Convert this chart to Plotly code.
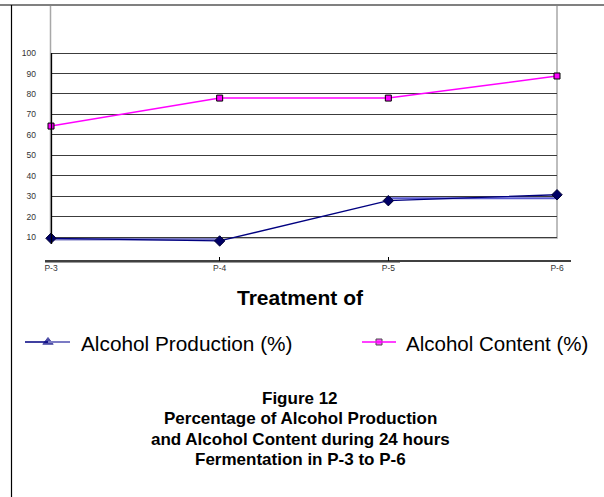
import plotly.graph_objects as go

# ---------------- data ----------------
categories = ["P-3", "P-4", "P-5", "P-6"]
alcohol_production = [9.4, 8.1, 27.8, 30.7]
production_band_low = [8.9, 8.9, None, None]
production_band_high = [None, None, 29.0, 29.0]
alcohol_content = [64.3, 78.0, 78.0, 88.8]
y_tick_values = [10, 20, 30, 40, 50, 60, 70, 80, 90, 100]
y_tick_labels = [str(v) for v in y_tick_values]
x_title = "Treatment of"
legend_names = ["Alcohol Production (%)", "Alcohol Content (%)"]
caption_lines = ["Figure 12", "Percentage of Alcohol Production",
                 "and Alcohol Content during 24 hours", "Fermentation in P-3 to P-6"]

W, H = 604, 497
FONT = "Liberation Sans, Arial, sans-serif"


def px(x):
    return x / W


def py(y):
    return 1 - y / H


# y scale: value 0 at pixel 257.5, 2.044 px per unit
Y0, K = 257.5, 2.044
y_top_px, y_bot_px = 5, 261
y_range = [(Y0 - y_bot_px) / K, (Y0 - y_top_px) / K]

fig = go.Figure()

fig.add_trace(go.Scatter(x=categories, y=production_band_low, mode="lines",
                         line=dict(color="#7b7bc4", width=2.5), showlegend=False,
                         hoverinfo="skip", cliponaxis=False))
fig.add_trace(go.Scatter(x=categories, y=production_band_high, mode="lines",
                         line=dict(color="#5a5ad0", width=2), showlegend=False,
                         hoverinfo="skip", cliponaxis=False))
fig.add_trace(go.Scatter(x=categories, y=alcohol_production, mode="lines+markers",
                         name=legend_names[0],
                         line=dict(color="#000080", width=1.3),
                         marker=dict(symbol="diamond", size=8, color="#000066",
                                     line=dict(color="#000033", width=1)),
                         showlegend=False, cliponaxis=False))
fig.add_trace(go.Scatter(x=categories, y=alcohol_content, mode="lines+markers",
                         name=legend_names[1],
                         line=dict(color="#ff00ff", width=1.5),
                         marker=dict(symbol="square", size=6, color="#ff00ff",
                                     line=dict(color="#000000", width=1)),
                         showlegend=False, cliponaxis=False))

# legend symbols on a pixel-coordinate helper axis covering the whole figure
fig.add_trace(go.Scatter(x=[48, 379], y=[342, 342], mode="markers",
                         marker=dict(symbol=["triangle-up", "square"], size=[9, 6],
                                     color=["#000080", "#ff00ff"],
                                     line=dict(color=["#000080", "#000000"], width=1)),
                         xaxis="x2", yaxis="y2", showlegend=False, hoverinfo="skip",
                         cliponaxis=False))

shapes = []
# outer frame lines
shapes.append(dict(type="line", xref="paper", yref="paper", x0=0, x1=1, y0=py(5), y1=py(5),
                   line=dict(color="#808080", width=2)))
shapes.append(dict(type="line", xref="paper", yref="paper", x0=px(11.5), x1=px(11.5), y0=py(5), y1=0,
                   line=dict(color="#000000", width=1.2)))
# gray plot-area box
shapes.append(dict(type="rect", xref="paper", yref="paper", x0=px(50.5), x1=px(557), y0=py(238), y1=py(5),
                   line=dict(color="#a8a8a8", width=1.5), layer="below"))
# black y axis line
shapes.append(dict(type="line", xref="paper", yref="paper", x0=px(51.5), x1=px(51.5), y0=py(53), y1=py(244),
                   line=dict(color="#000000", width=1.3)))
# x axis line
shapes.append(dict(type="line", xref="paper", yref="paper", x0=px(45), x1=px(571), y0=py(261), y1=py(261),
                   line=dict(color="#000000", width=1.3)))
shapes.append(dict(type="line", xref="paper", yref="paper", x0=px(45), x1=px(400), y0=py(262.5), y1=py(262.5),
                   line=dict(color="#999999", width=1)))
# legend lines
shapes.append(dict(type="line", xref="paper", yref="paper", x0=px(25), x1=px(48), y0=py(342), y1=py(342),
                   line=dict(color="#000080", width=1.5)))
shapes.append(dict(type="line", xref="paper", yref="paper", x0=px(48), x1=px(70), y0=py(342), y1=py(342),
                   line=dict(color="#7b7bc4", width=2)))
shapes.append(dict(type="line", xref="paper", yref="paper", x0=px(362), x1=px(396), y0=py(342), y1=py(342),
                   line=dict(color="#ff00ff", width=1.5)))

annotations = []
annotations.append(dict(text="<b>" + x_title + "</b>", x=px(300), y=py(297), xref="paper", yref="paper",
                        showarrow=False, font=dict(family=FONT, size=21, color="#000000"),
                        xanchor="center", yanchor="middle"))
annotations.append(dict(text=legend_names[0], x=px(79), y=py(343), xref="paper", yref="paper",
                        showarrow=False, font=dict(family=FONT, size=20.8, color="#000000"),
                        xanchor="left", yanchor="middle"))
annotations.append(dict(text=legend_names[1], x=px(404), y=py(343), xref="paper", yref="paper",
                        showarrow=False, font=dict(family=FONT, size=20.5, color="#000000"),
                        xanchor="left", yanchor="middle"))
for i, line in enumerate(caption_lines):
    annotations.append(dict(text="<b>" + line + "</b>", x=px(300), y=py(398 + 20.5 * i),
                            xref="paper", yref="paper", showarrow=False,
                            font=dict(family=FONT, size=17, color="#000000"),
                            xanchor="center", yanchor="middle"))

fig.update_layout(
    template="none",
    width=W, height=H,
    margin=dict(l=0, r=0, t=0, b=0, pad=0),
    paper_bgcolor="white", plot_bgcolor="rgba(0,0,0,0)",
    showlegend=False,
    xaxis=dict(type="category", range=[0, 3], domain=[px(51), px(557)],
               showgrid=False, zeroline=False, showline=False, automargin=False,
               ticks="inside", ticklen=4, tickcolor="#000000", tickwidth=1,
               tickfont=dict(family=FONT, size=8.5, color="#333333"),
               anchor="y", fixedrange=True),
    yaxis=dict(range=y_range, domain=[py(y_bot_px), py(y_top_px)],
               tickvals=y_tick_values, ticktext=y_tick_labels,
               showgrid=True, gridcolor="#3c3c3c", gridwidth=1.4,
               zeroline=False, showline=False, ticks="", automargin=False,
               ticklabelstandoff=14,
               tickfont=dict(family=FONT, size=8.5, color="#333333"),
               anchor="x", fixedrange=True),
    xaxis2=dict(range=[0, W], domain=[0, 1], visible=False, fixedrange=True, anchor="y2",
                automargin=False),
    yaxis2=dict(range=[H, 0], domain=[0, 1], visible=False, fixedrange=True, anchor="x2",
                automargin=False),
    shapes=shapes, annotations=annotations,
)

fig.write_html("out.html")
